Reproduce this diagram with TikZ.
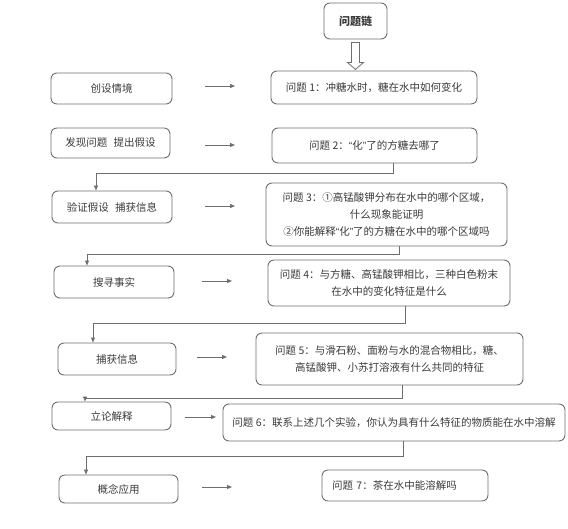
\documentclass[tikz,border=0pt]{standalone}
\usepackage{fontspec}
\setmainfont{Noto Sans CJK SC}
\newfontfamily\latinq{Liberation Sans}
\newcommand{\myLq}{{\latinq “}}
\newcommand{\myRq}{{\latinq ”}}
\usetikzlibrary{arrows.meta,calc}
\definecolor{linec}{HTML}{6E6E6E}
\definecolor{txtc}{HTML}{3A3A3A}
\tikzset{
  box/.style={draw=linec, line width=0.9pt, rounded corners=6pt, text=txtc,
    inner sep=0pt, align=center, font=\fontsize{10.5}{17}\selectfont},
  conn/.style={draw=linec, line width=0.8pt, -{Triangle[length=5pt,width=4pt]}},
}
\begin{document}
\begin{tikzpicture}[x=1pt,y=-1pt]
\useasboundingbox (0,0) rectangle (568,528);
% top
\node[box, minimum width=63pt, minimum height=36pt, font=\fontsize{11}{13}\selectfont\bfseries] (top) at (355.5,21) {问题链};
% left boxes
\node[box, minimum width=121pt, minimum height=31pt] (L1) at (111.5,88.5) {创设情境};
\node[box, minimum width=119pt, minimum height=30pt] (L2) at (110.5,143) {发现问题\hspace{0.6em}提出假设};
\node[box, minimum width=120pt, minimum height=32pt] (L3) at (112,207) {验证假设\hspace{0.6em}捕获信息};
\node[box, minimum width=120pt, minimum height=32pt] (L4) at (114,282) {搜寻事实};
\node[box, minimum width=118pt, minimum height=32pt] (L5) at (117,359) {捕获信息};
\node[box, minimum width=119pt, minimum height=28pt] (L6) at (111.5,416) {立论解释};
\node[box, minimum width=119pt, minimum height=28pt] (L7) at (118.5,489) {概念应用};
% right boxes
\node[box, minimum width=206pt, minimum height=33pt] (Q1) at (374,87.5) {问题 1：冲糖水时，糖在水中如何变化};
\node[box, minimum width=205pt, minimum height=35pt] (Q2) at (374.5,145.5) {问题 2：\myLq 化\myRq 了的方糖去哪了};
\node[box, minimum width=241pt, minimum height=63pt] (Q3) at (386.5,214.5) {问题 3：①高锰酸钾分布在水中的哪个区域，\\什么现象能证明\\②你能解释\myLq 化\myRq 了的方糖在水中的哪个区域吗};
\node[box, minimum width=242pt, minimum height=46pt] (Q4) at (389,283) {问题 4：与方糖、高锰酸钾相比，三种白色粉末\\在水中的变化特征是什么};
\node[box, minimum width=267pt, minimum height=52pt] (Q5) at (389.5,359) {问题 5：与滑石粉、面粉与水的混合物相比，糖、\\高锰酸钾、小苏打溶液有什么共同的特征};
\node[box, minimum width=342pt, minimum height=37pt] (Q6) at (394,422.5) {问题 6：联系上述几个实验，你认为具有什么特征的物质能在水中溶解};
\node[box, minimum width=166pt, minimum height=31pt, text width=146pt, align=left] (Q7) at (405,485.5) {问题 7：茶在水中能溶解吗};
% hollow arrow
\draw[linec, line width=0.8pt, fill=white]
  ([xshift=-4pt,yshift=-3pt]top.south) -- ++(0,20) -- ++(-4,0) -- ($(top.south)+(0,30)$) coordinate (ha)
  -- ++(8,-7) -- ++(-4,0) -- ++(0,-20) -- cycle;
% horizontal arrows
\foreach \n/\xa/\xb/\y in {1/205/235/86, 2/205/235/145, 3/205/235/206, 4/202/232/281, 5/197/227/357, 6/185/216/417, 7/202/232/487}{
  \coordinate (as\n) at (\xa,\y);
  \coordinate (ae\n) at (\xb,\y);
  \draw[conn] (as\n) -- (ae\n);
}
% connectors
\draw[conn] (Q2.south -| 393,0) |- (96,173) -- (L3.north -| 96,0);
\draw[conn] (Q3.south -| 399,0) |- (87,254) -- (L4.north -| 87,0);
\draw[conn] (Q4.south -| 405,0) |- (93,323) -- (L5.north -| 93,0);
\draw[conn] (Q5.south -| 402,0) |- (85,398) -- (L6.north -| 85,0);
\draw[conn] (Q6.south -| 403,0) |- (86,456) -- (L7.north -| 86,0);
\end{tikzpicture}
\end{document}
